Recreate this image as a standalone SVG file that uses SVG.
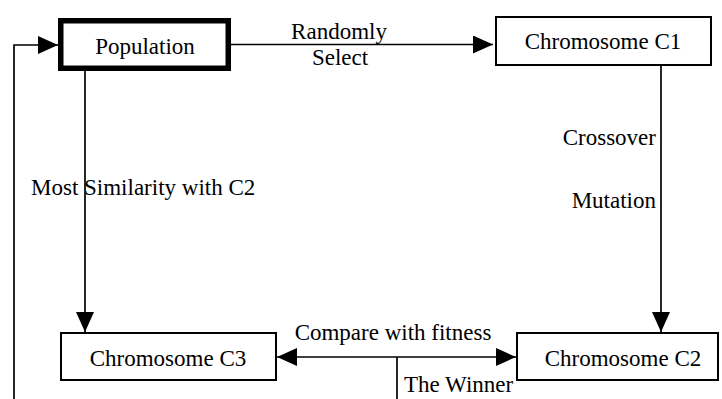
<svg xmlns="http://www.w3.org/2000/svg" width="722" height="399" viewBox="0 0 722 399" font-family="'Liberation Serif', 'Times New Roman', Times, 'DejaVu Serif', serif">
<defs>
<style>
.box{fill:#fff;stroke:#000;stroke-width:2}
.thick{fill:#fff;stroke:#000;stroke-width:5.5}
text{font-family:'Liberation Serif','Times New Roman',Times,'DejaVu Serif',serif;font-size:23px;fill:#000}
.c{text-anchor:middle}
.e{text-anchor:end}
.ln{fill:none;stroke:#000;stroke-width:1.7}
</style>
<marker id="ah" viewBox="0 0 20 18" refX="20" refY="9" markerWidth="20" markerHeight="18" markerUnits="userSpaceOnUse" orient="auto-start-reverse">
<path d="M0,0 L20,9 L0,18 Z" fill="#000"/>
</marker>
</defs>
<rect width="722" height="399" fill="#fff"/>
<g id="connectors">
<path class="ln" d="M14,399 V45 H58" marker-end="url(#ah)"/>
<path class="ln" d="M231,44.5 H493" marker-end="url(#ah)"/>
<path class="ln" d="M85,71 V332" marker-end="url(#ah)"/>
<path class="ln" d="M661,66 V332" marker-end="url(#ah)"/>
<path class="ln" d="M277,357 H516" marker-start="url(#ah)" marker-end="url(#ah)"/>
<path class="ln" d="M397,357 V399"/>
<text class="c" x="339" y="39">Randomly</text>
<text class="c" x="340" y="65">Select</text>
<text x="31" y="195">Most Similarity with C2</text>
<text class="e" x="656" y="145">Crossover</text>
<text class="e" x="656" y="208">Mutation</text>
<text class="c" x="393" y="340">Compare with fitness</text>
<text x="404" y="392">The Winner</text>
</g>
<g id="population">
<rect class="thick" x="60.75" y="20.75" width="167.5" height="47.5"/>
<text class="c" x="145" y="54">Population</text>
</g>
<g id="c1">
<rect class="box" x="496" y="17" width="215" height="48"/>
<text class="c" x="603" y="49">Chromosome C1</text>
</g>
<g id="c3">
<rect class="box" x="61" y="333" width="215" height="47"/>
<text class="c" x="168" y="366">Chromosome C3</text>
</g>
<g id="c2">
<rect class="box" x="517" y="333" width="201" height="47"/>
<text class="c" x="623" y="366">Chromosome C2</text>
</g>
</svg>
